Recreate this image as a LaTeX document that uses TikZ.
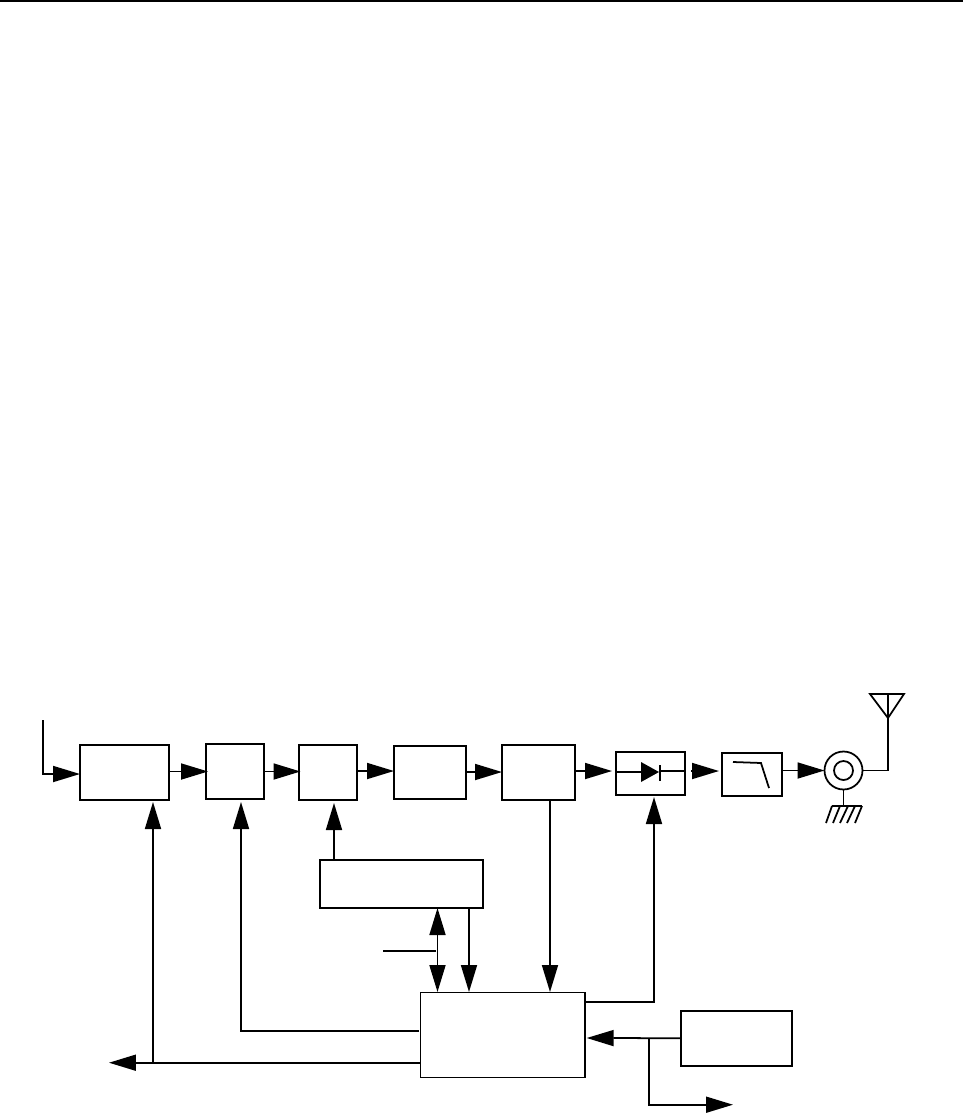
\documentclass[tikz,border=0pt]{standalone}
\usepackage{tikz}
\usetikzlibrary{arrows.meta, positioning, calc}
\tikzset{
  blockbox/.style={draw=black, line width=1pt, inner sep=0pt, outer sep=0pt},
  wire/.style={line width=1pt},
  sigarrow/.style={line width=1pt, -{Triangle[length=0.54cm, width=0.32cm]}},
  dblarrow/.style={line width=1pt, {Triangle[length=0.54cm, width=0.32cm]}-{Triangle[length=0.54cm, width=0.32cm]}}
}
\begin{document}
\begin{tikzpicture}[x=0.02cm, y=-0.02cm]
  \useasboundingbox (0,0) rectangle (963,1113);

  % Page rule
  \coordinate (ruleleft) at (0,1);
  \coordinate (ruleright) at (963,1);
  \draw[wire] (ruleleft) -- (ruleright);

  % Forward chain blocks
  \node[blockbox, minimum width=1.78cm, minimum height=1.10cm] (modbox) at (124.5,772.5) {};
  \node[blockbox, minimum width=1.16cm, minimum height=1.10cm] (mixbox) at (235,771.5) {};
  \node[blockbox, minimum width=1.16cm, minimum height=1.10cm] (upbox) at (328,772.5) {};
  \node[blockbox, minimum width=1.44cm, minimum height=1.06cm] (drvbox) at (430,772.5) {};
  \node[blockbox, minimum width=1.46cm, minimum height=1.10cm] (pabox) at (538.5,772.5) {};
  \node[blockbox, minimum width=1.38cm, minimum height=0.86cm] (diodebox) at (650.5,773.5) {};
  \node[blockbox, minimum width=1.20cm, minimum height=0.86cm] (filtbox) at (752,774.5) {};

  % Connector, outer and inner ring
  \node[draw, circle, line width=1pt, minimum size=0.76cm, inner sep=0pt, outer sep=0pt] (jack) at (843.5,770.5) {};
  \node[draw, circle, line width=1pt, minimum size=0.38cm, inner sep=0pt, outer sep=0pt] (jackin) at (843.5,770.5) {};

  % Lower blocks
  \node[blockbox, minimum width=3.27cm, minimum height=0.96cm] (synbox) at (401.5,884) {};
  \node[blockbox, minimum width=3.29cm, minimum height=1.70cm] (ctrlbox) at (502.7,1035) {};
  \node[blockbox, minimum width=2.22cm, minimum height=1.10cm] (refbox) at (736.5,1038.2) {};

  % Input
  \coordinate (infree) at (43,720);
  \draw[sigarrow] (infree) |- (modbox.west |- 0,774);

  % Forward chain arrows
  \draw[sigarrow] (modbox.east |- 0,771.5) -- (208,771.5);
  \draw[sigarrow] (mixbox.east) -- (300.5,771.5);
  \draw[sigarrow] (upbox.east |- 0,771) -- (drvbox.west |- 0,771);
  \draw[sigarrow] (drvbox.east |- 0,772) -- (pabox.west |- 0,772);
  \draw[sigarrow] (pabox.east |- 0,771) -- (612,771);
  \draw[sigarrow] (691,771) -- (719,771);
  \draw[sigarrow] (filtbox.east |- jack.west) -- (jack.west);

  % Diode
  \draw[wire] (diodebox.west |- 0,772) -- (641,772);
  \draw[wire] (660,771) -- (diodebox.east |- 0,771);
  \fill (641,762) -- (659,772) -- (641,782) -- cycle;
  \draw[wire] (660,765) -- (660,781);

  % Filter curve
  \draw[wire] (733,762) -- (761,763) -- (769,788);

  % Antenna
  \coordinate (antfoot) at (888,718);
  \draw[wire] (jack.east) -| (antfoot);
  \draw[wire] (870,694) -- (904,694) -- (antfoot) -- cycle;
  \draw[wire] (888,694) -- (antfoot);

  % Ground
  \draw[wire] (jack.south) -- (jack.south |- 0,806);
  \draw[wire] (832,806) -- (862,806);
  \foreach \gx/\gy in {832/826, 840/833, 848/840, 855/847, 862/855}
    \draw[wire] (\gx,806) -- (\gy,823);

  % Control lines going up
  \coordinate (modin) at (153,802);
  \coordinate (mixin) at (241,802);
  \coordinate (diodein) at (654,797);
  \coordinate (mixfree) at (419,1030.7);
  \draw[sigarrow] (mixfree) -| (mixin);
  \draw[sigarrow] (ctrlbox.west |- 0,1062.7) -- (109,1062.7);
  \draw[sigarrow] (153,1062.7) -- (modin);
  \draw[sigarrow] (334,860) -- (334,803);
  \draw[sigarrow] (ctrlbox.east |- 0,1002) -| (diodein);

  % Control lines going down
  \coordinate (busup) at (437.5,908);
  \coordinate (busdown) at (437.5,992);
  \coordinate (busfree) at (383,951);
  \draw[dblarrow] (busup) -- (busdown);
  \draw[wire] (busfree) -- (436,951);
  \draw[sigarrow] (469,908) -- (469,992);
  \draw[sigarrow] (550,800) -- (550,992);

  % Reference block
  \coordinate (refsplit) at (649,1038);
  \coordinate (refout) at (733,1104.7);
  \draw[sigarrow] (refbox.west) -- (586.7,1038);
  \draw[sigarrow] (refsplit) |- (refout);
\end{tikzpicture}
\end{document}
